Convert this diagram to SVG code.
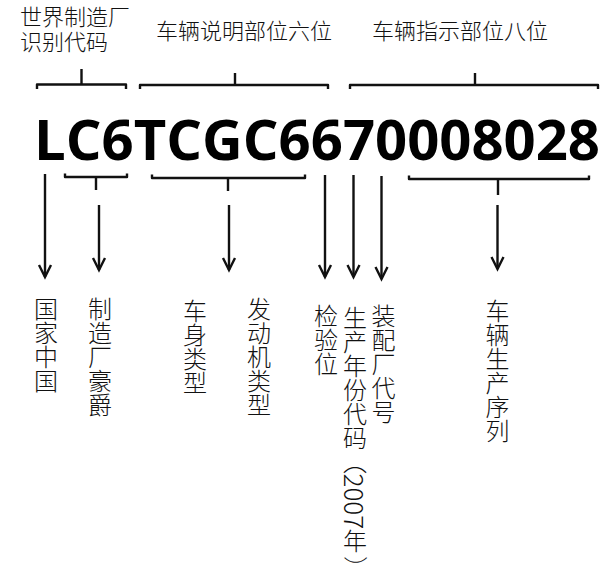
<svg xmlns="http://www.w3.org/2000/svg" width="612" height="580" viewBox="0 0 612 580">
  <style>
    .hl { font-family: "Noto Sans CJK SC", "Noto Sans", sans-serif; font-size: 22px; font-weight: 300; fill: #111; }
    .vl { font-family: "Noto Sans CJK SC", "Noto Sans", sans-serif; font-size: 24px; font-weight: 300; fill: #111; writing-mode: vertical-rl; }
    .pn { font-family: "Noto Sans CJK SC", "Noto Sans", sans-serif; font-size: 24px; font-weight: 300; fill: #111; }
    .vin { font-family: "Open Sans", "Noto Sans", "Liberation Sans", sans-serif; font-size: 56px; font-weight: 700; fill: #000; }
    .br { fill: none; stroke: #111; stroke-width: 2.4; stroke-linejoin: round; }
    .ar { fill: none; stroke: #111; stroke-width: 2.4; marker-end: url(#head); }
  </style>
  <defs>
    <marker id="head" markerUnits="userSpaceOnUse" viewBox="-14 -8 16 16" markerWidth="16" markerHeight="16" refX="0" refY="0" orient="auto" overflow="visible">
      <path d="M-12,-6 L0,0 L-12,6" fill="none" stroke="#111" stroke-width="2.4" stroke-linejoin="miter"/>
    </marker>
  </defs>
  <rect width="612" height="580" fill="#fff"/>

  <g id="wmi-label">
    <text class="hl" x="20" y="25">世界制造厂<tspan x="20" y="50">识别代码</tspan></text>
  </g>
  <g id="vds-label">
    <text class="hl" x="156" y="38.5">车辆说明部位六位</text>
  </g>
  <g id="vis-label">
    <text class="hl" x="372" y="38.5">车辆指示部位八位</text>
  </g>

  <g id="vin">
    <text class="vin" x="34" y="160" textLength="566" lengthAdjust="spacingAndGlyphs">LC6TCGC6670008028</text>
  </g>

  <g id="connectors">
    <path class="br" d="M37,89 V84.5 H126 V89 M81.5,84.5 V69"/>
    <path class="br" d="M140,89 V85 H328 V89 M235,85 V73"/>
    <path class="br" d="M350,89 V85 H598 V89 M475,85 V73"/>

    <path class="br" d="M65,173.5 V177 H127 V173.5 M96,177 V190"/>
    <path class="br" d="M152,174.5 V178 H305 V174.5 M228,178 V191"/>
    <path class="br" d="M409,175.5 V179 H589 V175.5 M498,179 V195"/>

    <line class="ar" x1="45" y1="174" x2="45" y2="277"/>
    <line class="ar" x1="99" y1="205" x2="99" y2="270"/>
    <line class="ar" x1="229" y1="205" x2="229" y2="270"/>
    <line class="ar" x1="325" y1="175" x2="325" y2="277"/>
    <line class="ar" x1="353.5" y1="175" x2="353.5" y2="277"/>
    <line class="ar" x1="381.5" y1="176" x2="381.5" y2="279"/>
    <line class="ar" x1="497.5" y1="205" x2="497.5" y2="269"/>
  </g>

  <g id="country">
    <text class="vl" x="46" y="296.5">国家中国</text>
  </g>
  <g id="manufacturer">
    <text class="vl" x="100" y="296.5">制造厂豪爵</text>
  </g>
  <g id="body-type">
    <text class="vl" x="195" y="298.5">车身类型</text>
  </g>
  <g id="engine-type">
    <text class="vl" x="259" y="296.5">发动机类型</text>
  </g>
  <g id="check-digit">
    <text class="vl" x="326" y="304">检验位</text>
  </g>
  <g id="model-year">
    <text class="vl" x="355" y="305.5">生产年份代码（<tspan font-size="26">2007</tspan>年</text>
    <text class="pn" x="346.5" y="556" transform="rotate(90 346.5 556)">）</text>
  </g>
  <g id="plant-code">
    <text class="vl" x="383.5" y="303.5">装配厂代号</text>
  </g>
  <g id="serial">
    <text class="vl" x="497.5" y="298.5">车辆生产序列</text>
  </g>
</svg>
